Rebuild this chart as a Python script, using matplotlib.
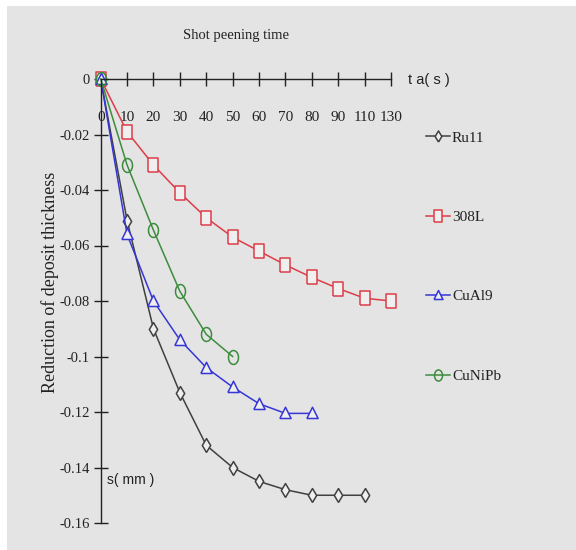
import numpy as np
import matplotlib
matplotlib.use("Agg")
import matplotlib.pyplot as plt
from matplotlib.patches import Rectangle

# data (x is categorical, 120 is skipped on the original axis)
time_labels = ['0', '10', '20', '30', '40', '50', '60', '70', '80', '90', '110', '130']
y_ticks = [0, -0.02, -0.04, -0.06, -0.08, -0.1, -0.12, -0.14, -0.16]
y_tick_labels = ['0', '-0.02', '-0.04', '-0.06', '-0.08', '-0.1', '-0.12', '-0.14', '-0.16']

ru11 = [0, -0.051, -0.090, -0.113, -0.132, -0.140, -0.145, -0.148, -0.150, -0.150, -0.150]
l308 = [0, -0.019, -0.031, -0.041, -0.050, -0.057, -0.062, -0.067, -0.0715, -0.0755, -0.079, -0.080]
cual9 = [0, -0.056, -0.080, -0.094, -0.104, -0.111, -0.117, -0.1205, -0.1205]
cunipb = [0, -0.031, -0.0545, -0.0765, -0.092, -0.100]

serif = 'Liberation Serif'
sans = 'Liberation Sans'

# narrow (tall) marker shapes, like the squeezed original
sq = [(-0.35, -0.5), (0.35, -0.5), (0.35, 0.5), (-0.35, 0.5), (-0.35, -0.5)]
dia = [(0, -0.5), (0.3, 0), (0, 0.5), (-0.3, 0), (0, -0.5)]
tri = [(-0.45, -0.4), (0.45, -0.4), (0, 0.5), (-0.45, -0.4)]
th = np.linspace(0, 2 * np.pi, 40)
ell = list(zip(0.36 * np.cos(th), 0.5 * np.sin(th)))

fig = plt.figure(figsize=(5.76, 5.5), dpi=100)
fig.patch.set_facecolor('white')
# gray screenshot panel
fig.patches.append(Rectangle((7/576, 0), 1, 1 - 6/550, transform=fig.transFigure,
                             facecolor='#e4e4e4', edgecolor='none', zorder=-10))

ax = fig.add_axes([100.7/576, 1 - 523/550, (391 - 100.7)/576, (523 - 79)/550])
ax.patch.set_alpha(0)

series = [
    ('Ru11', ru11, '#404040', dia, '#efefef', 10),
    ('308L', l308, '#dd3d48', sq, '#efefef', 10),
    ('CuAl9', cual9, '#3636d6', tri, '#efefef', 9),
    ('CuNiPb', cunipb, '#3d8c3d', ell, 'none', 10),
]
for name, vals, c, m, mfc, ms in series:
    ax.plot(np.arange(len(vals)), vals, color=c, lw=1.1, marker=m, ms=ms,
            mfc=mfc, mec=c, mew=1.1, label=name, clip_on=False)

ax.set_xlim(0, 11)
ax.set_ylim(-0.16, 0)

# axes lines: x axis at y=0 (top), y axis on the left
ax.spines['top'].set_visible(False)
ax.spines['right'].set_visible(False)
ax.spines['bottom'].set_position(('data', 0))
for s in ['left', 'bottom']:
    ax.spines[s].set_color('#222222')
    ax.spines[s].set_linewidth(1.0)

ax.set_xticks(np.arange(len(time_labels)))
ax.set_xticklabels(time_labels, fontfamily=serif, fontsize=11)
ax.set_yticks(y_ticks)
ax.set_yticklabels(y_tick_labels, fontfamily=serif, fontsize=10.5)
ax.tick_params(axis='x', direction='inout', length=10, width=1.0, pad=18, colors='#222222')
ax.tick_params(axis='y', direction='inout', length=10, width=1.0, pad=3, colors='#222222')

fig.text(236/576, 1 - 36/550, 'Shot peening time', family=serif, fontsize=10.5,
         ha='center', va='center', color='#222222')
fig.text(408/576, 1 - 80/550, 't a( s )', family=sans, fontsize=10.5,
         ha='left', va='center', color='#222222')
fig.text(107/576, 1 - 480/550, 's( mm )', family=sans, fontsize=10,
         ha='left', va='center', color='#222222')
fig.text(50/576, 1 - 282/550, 'Reduction of deposit thickness', family=serif,
         fontsize=13, rotation=90, ha='center', va='center', color='#222222')

leg = fig.legend(loc='upper left', bbox_to_anchor=(426/576, 1 - 131/550),
                 frameon=False, prop={'family': serif, 'size': 11},
                 handlelength=1.6, handletextpad=0.1, labelspacing=4.3,
                 borderpad=0, borderaxespad=0, markerscale=0.8)
for t in leg.get_texts():
    t.set_color('#222222')

fig.savefig('out.png', dpi=100)
